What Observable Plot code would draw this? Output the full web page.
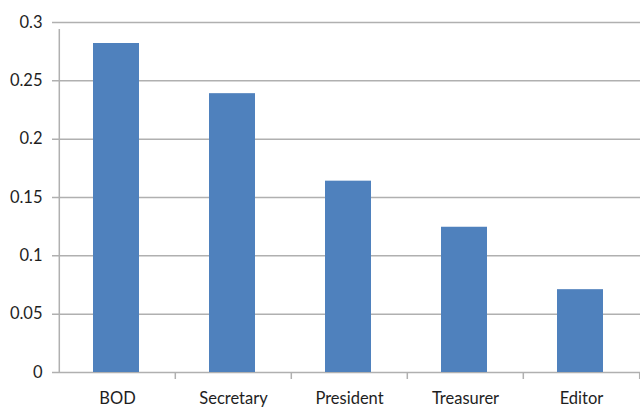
<!DOCTYPE html>
<html>
<head>
<meta charset="utf-8">
<script src="https://cdn.jsdelivr.net/npm/d3@7"></script>
<script src="https://cdn.jsdelivr.net/npm/@observablehq/plot@0.6"></script>
<style>
  html, body { margin: 0; padding: 0; background: #fff; overflow: hidden; }
  #chart { width: 640px; height: 407px; }
  #chart svg { display: block; }
</style>
</head>
<body>
<div id="chart"></div>
<script>
const categories = ["BOD", "Secretary", "President", "Treasurer", "Editor"];
const values = [0.282, 0.239, 0.164, 0.1245, 0.071];
const yTicks = [0, 0.05, 0.1, 0.15, 0.2, 0.25, 0.3];
const yTickLabels = ["0", "0.05", "0.1", "0.15", "0.2", "0.25", "0.3"];

const data = categories.map((c, i) => ({category: c, value: values[i]}));

const W = 640, H = 407;
const mL = 58, mR = 0, mT = 22, mB = 35;
const step = (W - mL - mR) / categories.length;

const edges = categories.map((c, i) => ({category: c, dx: -step / 2, top: i === 0 ? 0.3 : 0}));
edges.push({category: categories[categories.length - 1], dx: step / 2, top: 0});

const gridColor = "#b0b0b0";
const textColor = "#1e1e1e";

const chart = Plot.plot({
  width: W,
  height: H,
  marginLeft: mL,
  marginRight: mR,
  marginTop: mT,
  marginBottom: mB,
  style: {fontFamily: "Lato, 'Open Sans', sans-serif", fontSize: "16.5px", color: textColor, background: "#fff"},
  x: {domain: categories, paddingInner: 0.6, paddingOuter: 0.3, label: null},
  y: {domain: [0, 0.3], label: null},
  marks: [
    Plot.ruleY(yTicks, {stroke: gridColor, strokeWidth: 1.5, insetLeft: -6}),
    ...edges.map(e => Plot.ruleX([e], {x: "category", y1: 0, y2: e.top, dx: e.dx, stroke: gridColor, strokeWidth: 1.5, insetBottom: -7})),
    Plot.barY(data, {x: "category", y: "value", fill: "#4f81bd", dx: -1}),
    Plot.axisY({ticks: yTicks, tickSize: 0, tickPadding: 16, tickFormat: (d) => yTickLabels[yTicks.indexOf(d)], fill: textColor}),
    Plot.axisX({tickSize: 0, tickPadding: 20, fill: textColor})
  ]
});
document.getElementById("chart").appendChild(chart);
</script>
</body>
</html>
